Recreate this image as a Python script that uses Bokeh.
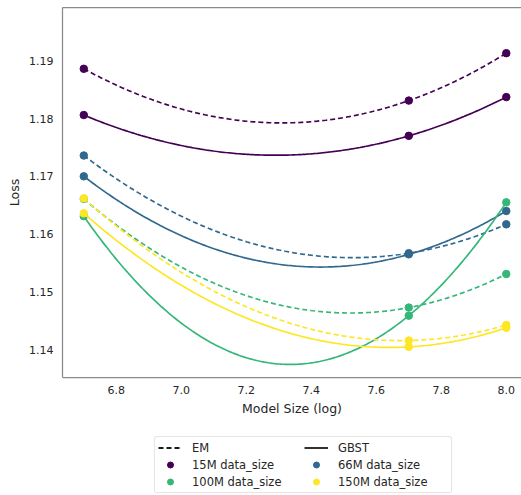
import numpy as np
from bokeh.plotting import figure
from bokeh.layouts import column
from bokeh.models import (Range1d, FixedTicker, NumeralTickFormatter, Legend,
                          LegendItem, LinearAxis)
from bokeh.embed import file_html
from bokeh.resources import INLINE

# ---- data ----
model_size = [6.7, 7.7, 8.0]
data_sizes = ["15M", "66M", "100M", "150M"]
colors = ["#440154", "#31688e", "#35b779", "#fde725"]

em_15m = [1.1886, 1.1831, 1.1913]
em_66m = [1.1736, 1.1567, 1.1617]
em_100m = [1.1661, 1.1473, 1.1531]
em_150m = [1.1662, 1.1416, 1.1443]

gbst_15m = [1.1806, 1.1770, 1.1837]
gbst_66m = [1.1700, 1.1565, 1.1640]
gbst_100m = [1.1631, 1.1459, 1.1655]
gbst_150m = [1.1636, 1.1405, 1.1438]

x_ticks = [6.8, 7.0, 7.2, 7.4, 7.6, 7.8, 8.0]
y_ticks = [1.14, 1.15, 1.16, 1.17, 1.18, 1.19]

em_series = [em_15m, em_66m, em_100m, em_150m]
gbst_series = [gbst_15m, gbst_66m, gbst_100m, gbst_150m]

TEXT = "#262626"
FRAME = "#8a8a8a"
FONT = "DejaVu Sans"

p = figure(width=521, height=418,
           x_range=Range1d(6.6345, 8.0468), y_range=Range1d(1.1352, 1.1992),
           output_backend="svg", toolbar_location=None,
           min_border_left=62, min_border_top=7, min_border_right=0,
           min_border_bottom=41)
p.outline_line_color = None
p.grid.visible = False
p.background_fill_color = "white"
p.border_fill_color = "white"

for ax in (p.xaxis[0], p.yaxis[0]):
    ax.major_tick_line_color = None
    ax.minor_tick_line_color = None
    ax.major_tick_out = 0
    ax.major_tick_in = 0
    ax.minor_tick_out = 0
    ax.axis_line_color = FRAME
    ax.axis_line_width = 1.25
    ax.major_label_text_font = FONT
    ax.major_label_text_font_size = "11px"
    ax.major_label_text_color = TEXT
    ax.axis_label_text_font = FONT
    ax.axis_label_text_font_size = "12.5px"
    ax.axis_label_text_font_style = "normal"
    ax.axis_label_text_color = TEXT

p.xaxis[0].ticker = FixedTicker(ticks=x_ticks)
p.xaxis[0].formatter = NumeralTickFormatter(format="0.0")
p.xaxis[0].axis_label = "Model Size (log)"
p.xaxis[0].major_label_standoff = 8
p.xaxis[0].axis_label_standoff = 4

p.yaxis[0].ticker = FixedTicker(ticks=y_ticks)
p.yaxis[0].formatter = NumeralTickFormatter(format="0.00")
p.yaxis[0].axis_label = "Loss"
p.yaxis[0].major_label_standoff = 9
p.yaxis[0].axis_label_standoff = 4

top_axis = LinearAxis(ticker=FixedTicker(ticks=[]),
                      major_label_text_font_size="0px",
                      major_tick_line_color=None, minor_tick_line_color=None,
                      major_tick_out=0, major_tick_in=0, minor_tick_out=0,
                      major_label_standoff=0,
                      axis_line_color=FRAME, axis_line_width=1.25)
p.add_layout(top_axis, "above")

xs = np.linspace(min(model_size), max(model_size), 200)
for vals_em, vals_gb, col in zip(em_series, gbst_series, colors):
    c_em = np.polyfit(model_size, vals_em, 2)
    c_gb = np.polyfit(model_size, vals_gb, 2)
    p.line(xs, np.polyval(c_em, xs), line_color=col, line_width=1.7,
           line_dash="5 3")
    p.line(xs, np.polyval(c_gb, xs), line_color=col, line_width=1.7)
    p.scatter(model_size, vals_em, size=7.5, fill_color=col, line_color=col)
    p.scatter(model_size, vals_gb, size=7.5, fill_color=col, line_color=col)

# ---- legend figure below the chart ----
lg = figure(width=521, height=77, x_range=Range1d(0, 1), y_range=Range1d(0, 1),
            output_backend="svg", toolbar_location=None,
            x_axis_location=None, y_axis_location=None,
            min_border=0, min_border_left=0, min_border_right=0,
            min_border_top=0, min_border_bottom=0)
lg.outline_line_color = None
lg.grid.visible = False
lg.background_fill_color = "white"
lg.border_fill_color = "white"

# off-screen proxy glyphs used only for the legend entries
em_dummy = lg.line([-10, -9], [-10, -9], line_color="#1a1a1a", line_width=1.8,
                   line_dash="5 3")
gb_dummy = lg.line([-10, -9], [-10, -9], line_color="#1a1a1a", line_width=1.8)
mk = [lg.scatter([-10], [-10], size=8, fill_color=c, line_color=c) for c in colors]

items = [
    LegendItem(label="EM", renderers=[em_dummy]),
    LegendItem(label=data_sizes[0] + " data_size", renderers=[mk[0]]),
    LegendItem(label=data_sizes[2] + " data_size", renderers=[mk[2]]),
    LegendItem(label="GBST", renderers=[gb_dummy]),
    LegendItem(label=data_sizes[1] + " data_size", renderers=[mk[1]]),
    LegendItem(label=data_sizes[3] + " data_size", renderers=[mk[3]]),
]
legend = Legend(items=items, location=(92, 2), orientation="vertical",
                ncols=2, glyph_width=24, glyph_height=15, label_height=15,
                label_width=110, label_standoff=10, spacing=2, padding=3,
                margin=0, border_line_color="#cccccc", border_line_width=1,
                label_text_font=FONT, label_text_font_size="11.5px",
                label_text_color=TEXT, background_fill_color="white",
                background_fill_alpha=1.0)
if "border_radius" in Legend.properties():
    legend.border_radius = 3
lg.add_layout(legend, "center")

layout = column(p, lg, spacing=0)
open("out.html", "w").write(file_html(layout, INLINE))
